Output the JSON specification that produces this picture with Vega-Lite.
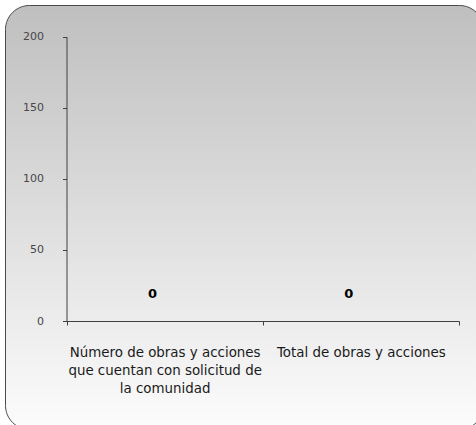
{
  "$schema": "https://vega.github.io/schema/vega-lite/v6.json",
  "width": 478,
  "height": 424,
  "autosize": {"type": "none"},
  "padding": {"left": 5, "top": 5, "right": 0, "bottom": 0},
  "background": "white",
  "config": {
    "font": "DejaVu Sans",
    "view": {
      "stroke": "#4a4a4a",
      "strokeWidth": 1,
      "cornerRadius": 24,
      "fill": {
        "gradient": "linear",
        "x1": 0, "y1": 0, "x2": 0, "y2": 1,
        "stops": [
          {"offset": 0, "color": "#bfbfbf"},
          {"offset": 1, "color": "#fcfcfc"}
        ]
      }
    }
  },
  "data": {
    "values": [
      {"categoria": "Número de obras y acciones que cuentan con solicitud de la comunidad", "valor": 0},
      {"categoria": "Total de obras y acciones", "valor": 0}
    ]
  },
  "encoding": {
    "x": {
      "field": "categoria",
      "type": "nominal",
      "sort": null,
      "scale": {"range": [61.5, 454], "paddingInner": 0, "paddingOuter": 0},
      "axis": {
        "title": null,
        "orient": "bottom",
        "offset": -108,
        "labelAngle": 0,
        "tickBand": "extent",
        "tickSize": 4,
        "tickColor": "#404040",
        "domainColor": "#404040",
        "labelFont": "DejaVu Sans",
        "labelFontSize": 13.4,
        "labelColor": "#1a1a1a",
        "labelPadding": 20,
        "labelLineHeight": 18,
        "labelLimit": 0,
        "labelExpr": "datum.label == 'Número de obras y acciones que cuentan con solicitud de la comunidad' ? ['Número de obras y acciones', 'que cuentan con solicitud de', 'la comunidad'] : datum.label"
      }
    },
    "y": {
      "field": "valor",
      "type": "quantitative",
      "scale": {"domain": [0, 200], "range": [316, 31.7], "nice": false},
      "axis": {
        "title": null,
        "orient": "left",
        "offset": -61.5,
        "values": [0, 50, 100, 150, 200],
        "grid": false,
        "tickSize": 4,
        "tickColor": "#404040",
        "domainColor": "#404040",
        "labelFont": "DejaVu Sans",
        "labelFontSize": 11,
        "labelColor": "#474747",
        "labelPadding": 19
      }
    }
  },
  "layer": [
    {
      "mark": {"type": "bar", "color": "#4f81bd"}
    },
    {
      "mark": {
        "type": "text",
        "font": "DejaVu Sans",
        "fontSize": 13,
        "fontWeight": "bold",
        "color": "#000000",
        "dy": -27,
        "dx": -12,
        "baseline": "middle"
      },
      "encoding": {"text": {"field": "valor", "type": "quantitative"}}
    }
  ]
}
